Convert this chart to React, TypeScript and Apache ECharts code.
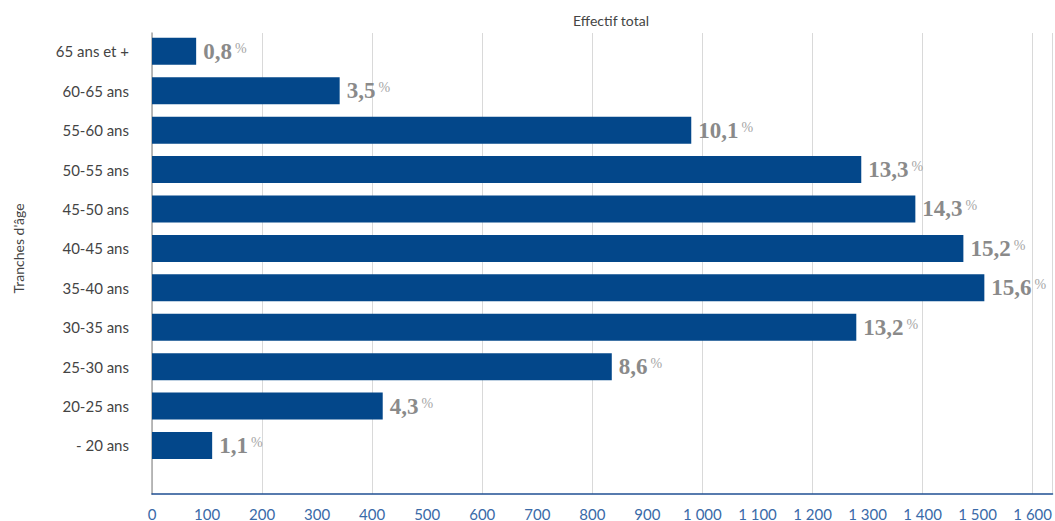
import React, { useEffect, useRef } from "react";
import * as echarts from "echarts";

const categories = [
  "- 20 ans",
  "20-25 ans",
  "25-30 ans",
  "30-35 ans",
  "35-40 ans",
  "40-45 ans",
  "45-50 ans",
  "50-55 ans",
  "55-60 ans",
  "60-65 ans",
  "65 ans et +",
];
const effectifs = [109, 418, 833, 1276, 1508, 1470, 1383, 1285, 977, 340, 80];
const percents = ["1,1", "4,3", "8,6", "13,2", "15,6", "15,2", "14,3", "13,3", "10,1", "3,5", "0,8"];
const xMin = 0;
const xMax = 1636;

const sans = "Lato, 'Open Sans', sans-serif";

export default function App() {
  const ref = useRef<HTMLDivElement>(null);
  useEffect(() => {
    if (!ref.current) return;
    const chart = echarts.init(ref.current, undefined, { renderer: "svg" });
    const fmt = (v: number) => {
      if (v % 100 !== 0) return "";
      const s = String(v);
      return s.length > 3 ? s.slice(0, s.length - 3) + " " + s.slice(-3) : s;
    };
    chart.setOption({
      animation: false,
      title: {
        text: "Effectif total",
        left: 606,
        top: 8,
        textAlign: "center",
        textStyle: { fontFamily: sans, fontSize: 14, fontWeight: "normal", color: "#444" },
      },
      grid: [
        { left: 152, right: 0, top: 31.6, height: 433.6, containLabel: false },
        { left: 152, right: 0, top: 33, height: 461, containLabel: false },
      ],
      xAxis: [
        {
          type: "value",
          gridIndex: 0,
          min: xMin,
          max: xMax,
          show: false,
        },
        {
          type: "value",
          gridIndex: 1,
          min: xMin,
          max: xMax,
          interval: 100,
          axisLine: { show: true, lineStyle: { color: "#1f4f93", width: 1.5 } },
          axisTick: { show: false },
          axisLabel: {
            formatter: fmt,
            color: "#3a6aa8",
            fontFamily: sans,
            fontSize: 15,
            margin: 12,
            showMaxLabel: false,
          },
          splitLine: { show: false },
        },
        {
          type: "value",
          gridIndex: 1,
          min: xMin,
          max: xMax,
          interval: 200,
          axisLine: { show: false },
          axisTick: { show: false },
          axisLabel: { show: false },
          splitLine: { show: true, lineStyle: { color: "#d9d9d9", width: 1 } },
        },
      ],
      yAxis: [
        {
          type: "category",
          gridIndex: 0,
          data: categories,
          name: "Tranches d'âge",
          nameLocation: "middle",
          nameRotate: 90,
          nameGap: 127,
          nameTextStyle: { fontFamily: sans, fontSize: 14, color: "#444" },
          axisLine: { show: false },
          axisTick: { show: false },
          axisLabel: { color: "#444", fontFamily: sans, fontSize: 15, margin: 23 },
          splitLine: { show: false },
        },
        {
          type: "value",
          gridIndex: 1,
          min: 0,
          max: 1,
          axisLine: { show: true, lineStyle: { color: "#a6a6a6", width: 1.5 } },
          axisTick: { show: false },
          axisLabel: { show: false },
          splitLine: { show: false },
        },
      ],
      series: [
        {
          type: "bar",
          xAxisIndex: 0,
          yAxisIndex: 0,
          data: effectifs,
          barWidth: 27,
          itemStyle: { color: "#03478a" },
          label: {
            show: true,
            position: "right",
            distance: 7,
            formatter: (p: any) => `{v|${percents[p.dataIndex]}}{p|%}`,
            rich: {
              v: {
                fontFamily: "'Liberation Serif', 'DejaVu Serif', serif",
                fontWeight: "bold",
                fontSize: 23,
                color: "#8a8a8a",
              },
              p: {
                fontFamily: "'Liberation Serif', serif",
                fontSize: 14,
                color: "#a6a6a6",
                padding: [0, 0, 6, 3],
              },
            },
          },
        },
      ],
    });
    return () => chart.dispose();
  }, []);
  return (
    <div
      ref={ref}
      style={{ position: "absolute", left: 0, top: 0, width: 1055, height: 521 }}
    />
  );
}
